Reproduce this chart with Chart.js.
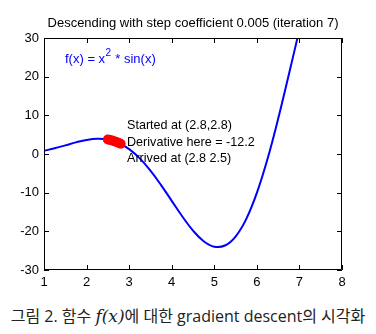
<!DOCTYPE html>
<html>
<head>
<meta charset="utf-8">
<script src="https://cdn.jsdelivr.net/npm/chart.js@4/dist/chart.umd.min.js"></script>
<style>
  html, body { margin: 0; padding: 0; background: #fff; }
  #wrap { position: relative; width: 376px; height: 334px; overflow: hidden; }
  #plot { position: absolute; left: 0; top: 0; }
  #caption {
    position: absolute; left: 0; top: 302px; width: 376px; text-align: center;
    font-family: "Open Sans", "Noto Sans CJK KR", sans-serif; font-size: 16px; color: #222;
    white-space: nowrap; line-height: 28px;
  }
  #caption .math { font-family: "DejaVu Serif", "Liberation Serif", serif; font-style: italic; font-size: 17px; }
</style>
</head>
<body>
<div id="wrap">
  <canvas id="plot" width="376" height="300"></canvas>
  <div id="caption">그림 2. 함수 <span class="math">f(x)</span>에 대한 gradient descent의 시각화</div>
</div>
<script>
// f(x) = x^2 * sin(x), sampled along the plotted range
const xValues = [1.0, 1.25, 1.5, 1.75, 2.0, 2.25, 2.5, 2.75, 3.0, 3.25, 3.5, 3.75, 4.0,
                 4.25, 4.5, 4.75, 5.0, 5.25, 5.5, 5.75, 6.0, 6.25, 6.5, 6.75, 7.0];
const fValues = [0.84, 1.48, 2.24, 3.01, 3.64, 3.94, 3.74, 2.89, 1.27, -1.14, -4.30, -8.04, -12.11,
                 -16.17, -19.80, -22.55, -23.97, -23.67, -21.34, -16.83, -10.06, -1.30, 9.09, 20.51, 32.19];

// gradient descent iterates
const descentX = [2.8, 2.75, 2.7, 2.65, 2.6, 2.55, 2.5];
const descentY = [2.63, 2.89, 3.12, 3.32, 3.49, 3.63, 3.74];

const xTicks = [1, 2, 3, 4, 5, 6, 7, 8];
const yTicks = [-30, -20, -10, 0, 10, 20, 30];

const titleText = 'Descending with step coefficient 0.005 (iteration 7)';
const noteLines = ['Started at (2.8,2.8)', 'Derivative here = -12.2', 'Arrived at (2.8 2.5)'];

const FONT = '"Liberation Sans", Arial, sans-serif';

const curve = xValues.map((x, i) => ({ x, y: fValues[i] }));
const steps = descentX.map((x, i) => ({ x, y: descentY[i] }));

// Boxed axes with inward ticks on all four sides, plus title and text notes
const decorations = {
  id: 'decorations',
  afterDraw(chart) {
    const { ctx, chartArea: a, scales } = chart;
    const xs = scales.x, ys = scales.y;
    ctx.save();
    ctx.strokeStyle = '#000';
    ctx.lineWidth = 1;
    ctx.beginPath();
    ctx.rect(a.left + 0.5, a.top + 0.5, a.right - a.left - 1, a.bottom - a.top - 1);
    const len = 5;
    xTicks.forEach(v => {
      const px = Math.round(xs.getPixelForValue(v)) + 0.5;
      ctx.moveTo(px, a.bottom); ctx.lineTo(px, a.bottom - len);
      ctx.moveTo(px, a.top); ctx.lineTo(px, a.top + len);
    });
    yTicks.forEach(v => {
      const py = Math.round(ys.getPixelForValue(v)) + 0.5;
      ctx.moveTo(a.left, py); ctx.lineTo(a.left + len, py);
      ctx.moveTo(a.right, py); ctx.lineTo(a.right - len, py);
    });
    ctx.stroke();

    // title
    ctx.fillStyle = '#000';
    ctx.font = '13px ' + FONT;
    ctx.textAlign = 'center';
    ctx.textBaseline = 'alphabetic';
    ctx.fillText(titleText, (a.left + a.right) / 2, 27);

    // formula label
    ctx.textAlign = 'left';
    ctx.fillStyle = '#0000ff';
    let x0 = 65, base = 63;
    ctx.font = '13px ' + FONT;
    const p1 = 'f(x) = x';
    ctx.fillText(p1, x0, base);
    x0 += ctx.measureText(p1).width;
    ctx.font = '10px ' + FONT;
    ctx.fillText('2', x0 + 0.5, base - 7);
    x0 += ctx.measureText('2').width + 1;
    ctx.font = '13px ' + FONT;
    ctx.fillText(' * sin(x)', x0, base);

    // descent notes
    ctx.fillStyle = '#000';
    ctx.textBaseline = 'middle';
    ctx.font = '12.6px ' + FONT;
    noteLines.forEach((t, i) => ctx.fillText(t, 127, 126 + i * 16.5));
    ctx.restore();
  }
};

new Chart(document.getElementById('plot'), {
  type: 'scatter',
  data: {
    datasets: [
      {
        data: steps,
        backgroundColor: '#ff0000',
        borderColor: '#ff0000',
        borderWidth: 0,
        pointRadius: 5,
        pointHoverRadius: 5
      },
      {
        data: curve,
        showLine: true,
        borderColor: '#0000ff',
        borderWidth: 2,
        pointRadius: 0,
        tension: 0.4
      }
    ]
  },
  options: {
    responsive: false,
    animation: false,
    events: [],
    layout: { padding: { top: 38, right: 34, left: 0, bottom: 0 } },
    plugins: { legend: { display: false }, tooltip: { enabled: false } },
    scales: {
      x: {
        type: 'linear', min: 1, max: 8,
        afterBuildTicks(s) { s.ticks = xTicks.map(v => ({ value: v })); },
        afterFit(s) { s.height = 30; },
        grid: { display: false, drawTicks: false },
        border: { display: false },
        ticks: { color: '#000', padding: 5, font: { family: FONT, size: 13 }, maxRotation: 0 }
      },
      y: {
        type: 'linear', min: -30, max: 30,
        afterBuildTicks(s) { s.ticks = yTicks.map(v => ({ value: v })); },
        afterFit(s) { s.width = 44; },
        grid: { display: false, drawTicks: false },
        border: { display: false },
        ticks: { color: '#000', padding: 5, font: { family: FONT, size: 13 } }
      }
    }
  },
  plugins: [decorations]
});
</script>
</body>
</html>
